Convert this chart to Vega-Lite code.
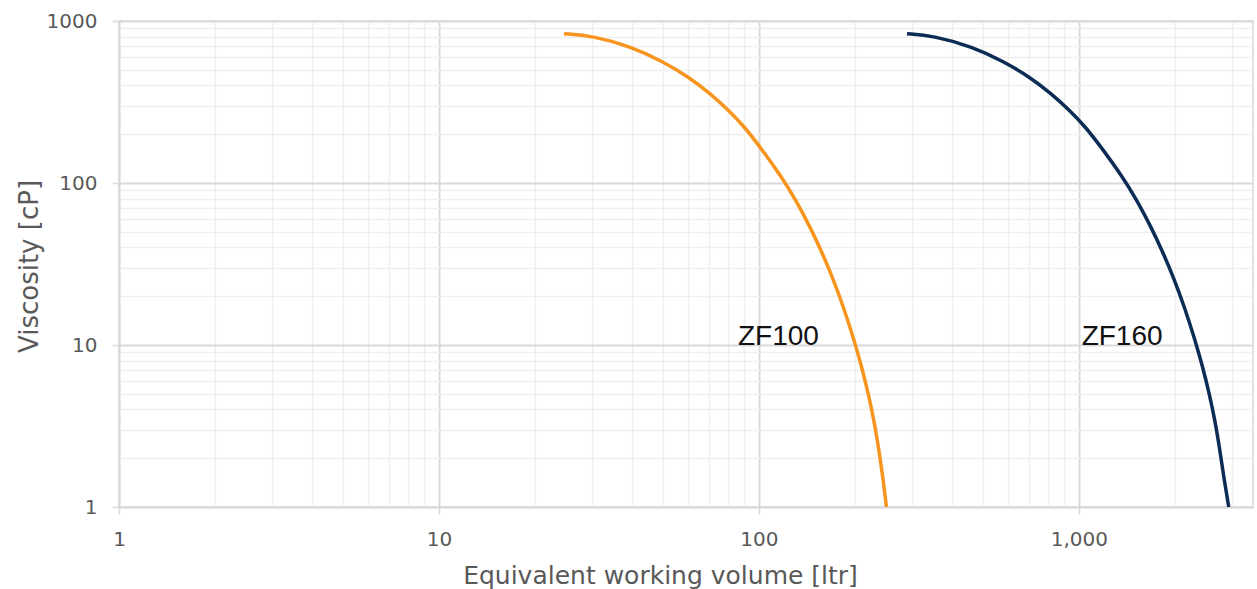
{
  "$schema": "https://vega.github.io/schema/vega-lite/v6.json",
  "width": 1134,
  "height": 486,
  "autosize": {"type": "none"},
  "padding": {"left": 119, "top": 21, "right": 4, "bottom": 82},
  "background": "white",
  "config": {"view": {"stroke": "#D9D9D9", "strokeWidth": 1.5}},
  "datasets": {
    "curves": [
      {"model": "ZF100", "volume": 24.59, "viscosity": 835},
      {"model": "ZF100", "volume": 30.01, "viscosity": 812.7},
      {"model": "ZF100", "volume": 40.01, "viscosity": 694.1},
      {"model": "ZF100", "volume": 50.22, "viscosity": 560.8},
      {"model": "ZF100", "volume": 60.11, "viscosity": 453.2},
      {"model": "ZF100", "volume": 70.35, "viscosity": 357.9},
      {"model": "ZF100", "volume": 80.25, "viscosity": 281.8},
      {"model": "ZF100", "volume": 89.84, "viscosity": 223.3},
      {"model": "ZF100", "volume": 99.5, "viscosity": 172.8},
      {"model": "ZF100", "volume": 117.7, "viscosity": 109.4},
      {"model": "ZF100", "volume": 131.2, "viscosity": 76.9},
      {"model": "ZF100", "volume": 144.3, "viscosity": 53.7},
      {"model": "ZF100", "volume": 157.0, "viscosity": 37.8},
      {"model": "ZF100", "volume": 170.7, "viscosity": 25.5},
      {"model": "ZF100", "volume": 183.4, "viscosity": 17.36},
      {"model": "ZF100", "volume": 198.1, "viscosity": 10.83},
      {"model": "ZF100", "volume": 209.4, "viscosity": 7.35},
      {"model": "ZF100", "volume": 219.6, "viscosity": 5.03},
      {"model": "ZF100", "volume": 228.8, "viscosity": 3.44},
      {"model": "ZF100", "volume": 237.1, "viscosity": 2.25},
      {"model": "ZF100", "volume": 244.6, "viscosity": 1.47},
      {"model": "ZF100", "volume": 250.3, "viscosity": 1.0},
      {"model": "ZF160", "volume": 290.2, "viscosity": 835},
      {"model": "ZF160", "volume": 349.0, "viscosity": 812.7},
      {"model": "ZF160", "volume": 465.3, "viscosity": 694.1},
      {"model": "ZF160", "volume": 584.1, "viscosity": 560.8},
      {"model": "ZF160", "volume": 699.1, "viscosity": 453.2},
      {"model": "ZF160", "volume": 818.2, "viscosity": 357.9},
      {"model": "ZF160", "volume": 933.3, "viscosity": 281.8},
      {"model": "ZF160", "volume": 1044.8, "viscosity": 223.3},
      {"model": "ZF160", "volume": 1157.2, "viscosity": 172.8},
      {"model": "ZF160", "volume": 1368.9, "viscosity": 109.4},
      {"model": "ZF160", "volume": 1525.9, "viscosity": 76.9},
      {"model": "ZF160", "volume": 1678.2, "viscosity": 53.7},
      {"model": "ZF160", "volume": 1825.9, "viscosity": 37.8},
      {"model": "ZF160", "volume": 1985.2, "viscosity": 25.5},
      {"model": "ZF160", "volume": 2132.9, "viscosity": 17.36},
      {"model": "ZF160", "volume": 2303.9, "viscosity": 10.83},
      {"model": "ZF160", "volume": 2435.3, "viscosity": 7.35},
      {"model": "ZF160", "volume": 2554.0, "viscosity": 5.03},
      {"model": "ZF160", "volume": 2660.9, "viscosity": 3.44},
      {"model": "ZF160", "volume": 2757.5, "viscosity": 2.25},
      {"model": "ZF160", "volume": 2844.7, "viscosity": 1.47},
      {"model": "ZF160", "volume": 2940, "viscosity": 1.0}
    ],
    "labels": [
      {"label": "ZF100", "volume": 86, "viscosity": 10},
      {"label": "ZF160", "volume": 1020, "viscosity": 10}
    ]
  },
  "layer": [
    {
      "data": {"name": "curves"},
      "mark": {"type": "line", "strokeWidth": 3.5, "interpolate": "basis", "clip": true},
      "encoding": {
        "x": {
          "field": "volume",
          "type": "quantitative",
          "scale": {"type": "log", "domain": [1, 3500], "nice": false},
          "axis": {
            "values": [1,2,3,4,5,6,7,8,9,10,20,30,40,50,60,70,80,90,100,200,300,400,500,600,700,800,900,1000,2000,3000],
            "title": "Equivalent working volume [ltr]",
            "labelExpr": "abs(log(datum.value)/LN10 - round(log(datum.value)/LN10)) < 0.000001 ? format(datum.value, ',') : ''",
            "labelOverlap": false,
            "labelFlush": false,
            "labelBound": false,
            "labelFont": "DejaVu Sans",
            "labelFontSize": 20,
            "labelColor": "#595959",
            "labelPadding": 15,
            "tickSize": 7,
            "tickWidth": 1.5,
            "tickColor": {"condition": {"test": "abs(log(datum.value)/LN10 - round(log(datum.value)/LN10)) < 0.000001", "value": "#D9D9D9"}, "value": "rgba(0,0,0,0)"},
            "gridColor": {"condition": {"test": "abs(log(datum.value)/LN10 - round(log(datum.value)/LN10)) < 0.000001", "value": "#D9D9D9"}, "value": "#EFEFEF"},
            "gridWidth": {"condition": {"test": "abs(log(datum.value)/LN10 - round(log(datum.value)/LN10)) < 0.000001", "value": 2}, "value": 1.5},
            "domainColor": "#D9D9D9",
            "domainWidth": 1.5,
            "titleFont": "DejaVu Sans",
            "titleFontSize": 25,
            "titleFontWeight": "normal",
            "titleColor": "#595959",
            "titleX": 541,
            "titleY": 76,
            "titleAlign": "center",
            "titleBaseline": "alphabetic"
          }
        },
        "y": {
          "field": "viscosity",
          "type": "quantitative",
          "scale": {"type": "log", "domain": [1, 1000], "nice": false},
          "axis": {
            "values": [1,2,3,4,5,6,7,8,9,10,20,30,40,50,60,70,80,90,100,200,300,400,500,600,700,800,900,1000],
            "title": "Viscosity [cP]",
            "labelExpr": "abs(log(datum.value)/LN10 - round(log(datum.value)/LN10)) < 0.000001 ? format(datum.value, 'd') : ''",
            "labelOverlap": false,
            "labelFlush": false,
            "labelBound": false,
            "labelFont": "DejaVu Sans",
            "labelFontSize": 20,
            "labelColor": "#595959",
            "labelPadding": 15,
            "tickSize": 7,
            "tickWidth": 1.5,
            "tickColor": {"condition": {"test": "abs(log(datum.value)/LN10 - round(log(datum.value)/LN10)) < 0.000001", "value": "#D9D9D9"}, "value": "rgba(0,0,0,0)"},
            "gridColor": {"condition": {"test": "abs(log(datum.value)/LN10 - round(log(datum.value)/LN10)) < 0.000001", "value": "#D9D9D9"}, "value": "#EFEFEF"},
            "gridWidth": {"condition": {"test": "abs(log(datum.value)/LN10 - round(log(datum.value)/LN10)) < 0.000001", "value": 2}, "value": 1.5},
            "domainColor": "#D9D9D9",
            "domainWidth": 1.5,
            "titleFont": "DejaVu Sans",
            "titleFontSize": 26,
            "titleFontWeight": "normal",
            "titleColor": "#595959",
            "titleX": -82,
            "titleY": 245,
            "titleAlign": "center",
            "titleBaseline": "alphabetic"
          }
        },
        "color": {
          "field": "model",
          "type": "nominal",
          "scale": {"domain": ["ZF100", "ZF160"], "range": ["#F7941D", "#0B2C55"]},
          "legend": null
        }
      }
    },
    {
      "data": {"name": "labels"},
      "mark": {"type": "text", "align": "left", "baseline": "alphabetic", "font": "Liberation Sans", "fontSize": 28, "color": "#111111"},
      "encoding": {
        "x": {"field": "volume", "type": "quantitative"},
        "y": {"field": "viscosity", "type": "quantitative"},
        "text": {"field": "label"}
      }
    }
  ]
}
